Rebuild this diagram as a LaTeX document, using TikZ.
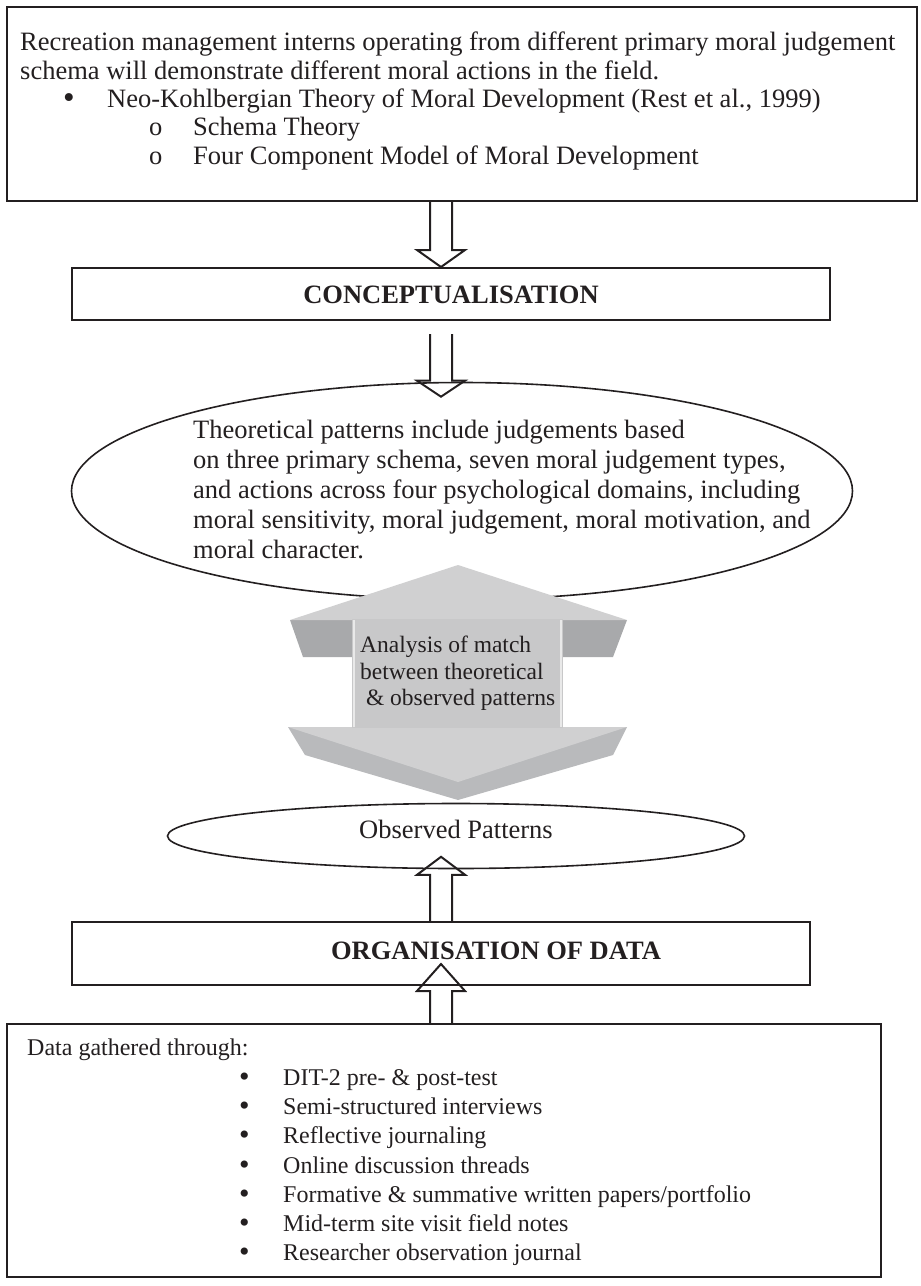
\documentclass[tikz,border=0pt]{standalone}
\usepackage{fontspec}
\setmainfont{Liberation Serif}
\usetikzlibrary{calc,shapes.geometric}

\definecolor{ink}{HTML}{231F20}
\definecolor{greyface}{HTML}{D0D0D1}
\definecolor{greyshaft}{HTML}{C8C8C9}
\definecolor{greyside}{HTML}{A8A9AB}
\definecolor{greylow}{HTML}{B9BABC}

\newcommand{\bigdot}{\smash{\raisebox{-1pt}{\scalebox{1.25}{•}}}}

\tikzset{
	frame/.style={draw=ink, line width=2pt, inner sep=0pt},
	oval/.style={draw=ink, line width=1.6pt, ellipse, inner sep=0pt},
	hollow/.style={draw=ink, line width=2pt, line join=miter},
	txt/.style={text=ink, inner sep=0pt, align=left, font=\fontsize{26.5}{28.3}\selectfont},
	heading/.style={text=ink, inner sep=0pt, font=\fontsize{26.5}{28}\selectfont\bfseries},
}

\newcommand{\hollowarrow}[3]{%
	\draw[hollow] let \p1=(#1), \p2=(#2) in
		({\x1-11pt},\y1) -- ({\x1-11pt},{\y2+(#3)}) -- ({\x1-24pt},{\y2+(#3)}) -- (\x1,\y2)
		-- ({\x1+24pt},{\y2+(#3)}) -- ({\x1+11pt},{\y2+(#3)}) -- ({\x1+11pt},\y1);}

\begin{document}
\begin{tikzpicture}[x=1pt, y=-1pt]
		\useasboundingbox (0,0) rectangle (921,1286);
		
		\node[frame, minimum width=910pt, minimum height=194pt] (hyp) at (462,104) {};
		\node[txt, anchor=north west] (hyptext) at (20,32) {Recreation management interns operating from different primary moral judgement\\
			schema will demonstrate different moral actions in the field.\\
			\hspace*{43pt}\makebox[44pt][l]{\bigdot}Neo-Kohlbergian Theory of Moral Development (Rest et al., 1999)\\
			\hspace*{129pt}\makebox[44pt][l]{o}Schema Theory\\
			\hspace*{129pt}\makebox[44pt][l]{o}Four Component Model of Moral Development};
		
		\node[frame, minimum width=758pt, minimum height=52pt] (concept) at (451,294) {};
		\node[heading] (concepttext) at (451,295) {CONCEPTUALISATION};
		
		\node[oval, minimum width=781pt, minimum height=217pt] (theo) at (462,491) {};
		\node[txt, anchor=north west, font=\fontsize{26.5}{30}\selectfont] (theotext) at (193,420) {Theoretical patterns include judgements based\\
			on three primary schema, seven moral judgement types,\\
			and actions across four psychological domains, including\\
			moral sensitivity, moral judgement, moral motivation, and\\
			moral character.};
		
		% grey double arrow
		\fill[greyside] (290,620) -- (627,620) -- (613,657) -- (303,657) -- cycle;
		\fill[greyface] (458,565) -- (627,620) -- (290,620) -- cycle;
		\fill[greylow] (288,727) -- (627,727) -- (613,755) -- (458,800) -- (305,755) -- cycle;
		\fill[greyface] (288,727) -- (627,727) -- (458,782) -- cycle;
		\fill[greyshaft] (352,619) rectangle (563,728);
		\draw[white!60!greyshaft, line width=1.5pt] (354,620) -- (354,727) (561,620) -- (561,727);
		\node[txt, anchor=north west, font=\fontsize{23.5}{26.5}\selectfont] (match) at (360,636) {Analysis of match\\
			between theoretical\\
			\ \& observed patterns};
		
		\node[oval, minimum width=577pt, minimum height=65pt] (obs) at (456,836) {};
		\node[txt] (obstext) at (456,829) {Observed Patterns};
		
		\node[frame, minimum width=738pt, minimum height=63pt] (org) at (441,953.5) {};
		\node[heading] (orgtext) at (496,951) {ORGANISATION OF DATA};
		
		\node[frame, minimum width=874pt, minimum height=253pt] (data) at (444,1150.5) {};
		\node[txt, anchor=north west, font=\fontsize{24}{29.3}\selectfont] (datatext) at (27,1039) {Data gathered through:\\
			\hspace*{212pt}\makebox[44pt][l]{\bigdot}DIT-2 pre- \& post-test\\
			\hspace*{212pt}\makebox[44pt][l]{\bigdot}Semi-structured interviews\\
			\hspace*{212pt}\makebox[44pt][l]{\bigdot}Reflective journaling\\
			\hspace*{212pt}\makebox[44pt][l]{\bigdot}Online discussion threads\\
			\hspace*{212pt}\makebox[44pt][l]{\bigdot}Formative \& summative written papers/portfolio\\
			\hspace*{212pt}\makebox[44pt][l]{\bigdot}Mid-term site visit field notes\\
			\hspace*{212pt}\makebox[44pt][l]{\bigdot}Researcher observation journal};
		
		\coordinate (axis) at (441,0);
		\hollowarrow{axis |- hyp.south}{axis |- concept.north}{17pt}
		\hollowarrow{[yshift=-13pt]axis |- concept.south}{[yshift=-15pt]axis |- theo.north}{16pt}
		\hollowarrow{axis |- org.north}{[yshift=12.5pt]axis |- obs.south}{-18pt}
		\hollowarrow{axis |- data.north}{[yshift=22pt]axis |- org.south}{-27pt}
\end{tikzpicture}
\end{document}
